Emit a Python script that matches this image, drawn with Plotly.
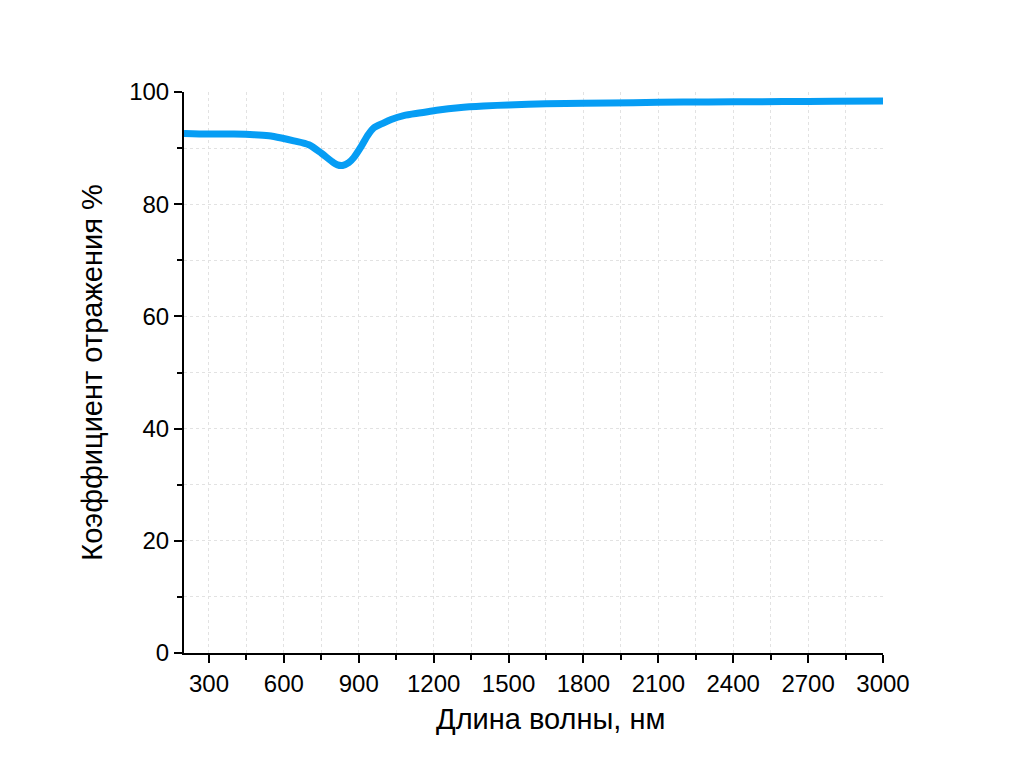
"""Reflectance spectrum plot."""

import plotly.graph_objects as go

# Wavelength, nm
wavelength = [200, 300, 400, 480, 540, 590, 640, 700, 750, 790, 815, 835, 860,
              880, 910, 935, 960, 1000, 1030, 1080, 1150, 1220, 1300, 1400,
              1500, 1650, 1800, 2000, 2200, 2400, 2600, 2800, 3000]
# Reflectance, %
reflectance = [92.6, 92.5, 92.5, 92.4, 92.2, 91.8, 91.3, 90.6, 89.1, 87.7,
               87.0, 86.9, 87.4, 88.3, 90.3, 92.2, 93.6, 94.5, 95.1, 95.8,
               96.3, 96.8, 97.2, 97.5, 97.7, 97.9, 98.0, 98.1, 98.2, 98.25,
               98.3, 98.35, 98.4]

x_title = "Длина волны, нм"
y_title = "Коэффициент отражения %"

fig = go.Figure()

fig.add_trace(
    go.Scatter(
        x=wavelength,
        y=reflectance,
        mode="lines",
        line=dict(color="#069DF4", width=7, shape="spline", smoothing=0.8),
        showlegend=False,
    )
)

grid_style = dict(
    showgrid=True,
    gridcolor="#e2e2e2",
    gridwidth=1,
    griddash="dot",
)

fig.update_xaxes(
    range=[200, 3000],
    tick0=300,
    dtick=300,
    ticks="outside",
    ticklen=8,
    tickwidth=2,
    tickcolor="black",
    showline=True,
    linecolor="black",
    linewidth=2,
    zeroline=False,
    minor=dict(
        tick0=150, dtick=150, ticks="outside", ticklen=5, tickwidth=2,
        tickcolor="black", **grid_style
    ),
    tickfont=dict(size=24),
    **grid_style,
)
fig.update_yaxes(
    range=[0, 100],
    tick0=0,
    dtick=20,
    ticks="outside",
    ticklen=8,
    tickwidth=2,
    tickcolor="black",
    showline=True,
    linecolor="black",
    linewidth=2,
    zeroline=False,
    minor=dict(
        tick0=0, dtick=10, ticks="outside", ticklen=5, tickwidth=2,
        tickcolor="black", **grid_style
    ),
    title=dict(text=y_title, font=dict(size=29), standoff=18),
    tickfont=dict(size=24),
    **grid_style,
)

# X-axis title is placed slightly right of centre, as in the original
fig.add_annotation(
    text=x_title,
    xref="paper",
    yref="paper",
    x=0.524,
    y=0,
    xanchor="center",
    yanchor="middle",
    yshift=-66,
    showarrow=False,
    font=dict(size=29),
)

fig.update_layout(
    width=1024,
    height=784,
    margin=dict(l=176, r=149, t=84, b=139),
    plot_bgcolor="white",
    paper_bgcolor="white",
    font=dict(family="Liberation Sans, Arial, sans-serif", color="black"),
)

fig.write_html("out.html")
